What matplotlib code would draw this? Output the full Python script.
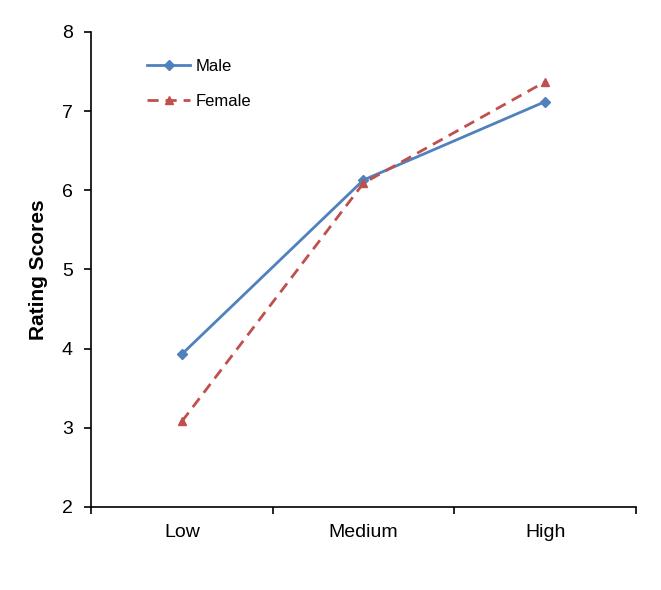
import matplotlib.pyplot as plt

plt.rcParams['font.family'] = ['Liberation Sans', 'DejaVu Sans']

# datos
categories = ['Low', 'Medium', 'High']
male = [3.93, 6.13, 7.12]
female = [3.08, 6.09, 7.37]

fig = plt.figure(figsize=(6.61, 5.90), dpi=100)
ax = fig.add_axes([0.1377, 0.1407, 0.8243, 0.8051])

x = list(range(len(categories)))
ax.plot(x, male, color='#4F81BD', lw=2, marker='D', ms=5, label='Male')
ax.plot(x, female, color='#C0504D', lw=2, ls=(0, (4, 2.5)), marker='^', ms=6, label='Female')

ax.set_xlim(-0.5, 2.5)
ax.set_ylim(2, 8)
ax.set_yticks(range(2, 9))
ax.set_xticks([-0.5, 0.5, 1.5, 2.5])
ax.set_xticklabels([])
ax.set_xticks(x, minor=True)
ax.set_xticklabels(categories, minor=True)
ax.tick_params(axis='x', which='minor', length=0, pad=12, labelsize=14)
ax.tick_params(axis='x', which='major', direction='out', length=5, width=1.2)
ax.tick_params(axis='y', direction='out', length=5, width=1.2, labelsize=14, pad=8)

for s in ['top', 'right']:
    ax.spines[s].set_visible(False)
for s in ['left', 'bottom']:
    ax.spines[s].set_linewidth(1.2)

ax.set_ylabel('Rating Scores', fontsize=15, fontweight='bold', labelpad=10)

ax.legend(loc='upper left', bbox_to_anchor=(0.075, 0.975), frameon=False,
          fontsize=12, handlelength=2.6, labelspacing=1.2, handletextpad=0.3)

plt.savefig('out.png', dpi=100)
